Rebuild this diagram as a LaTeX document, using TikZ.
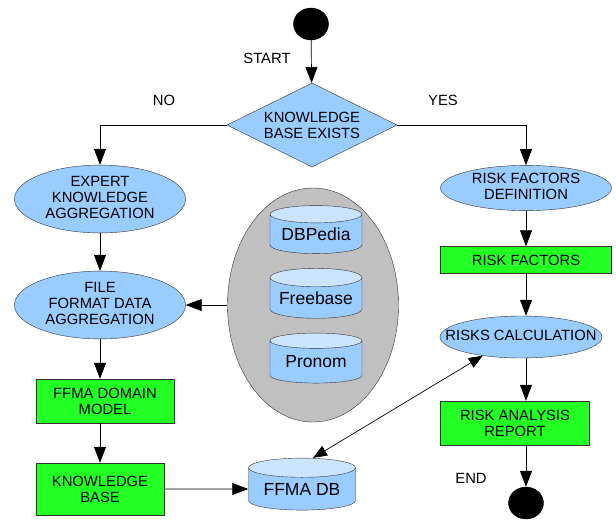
\documentclass[tikz,border=0pt]{standalone}
\usepackage{fontspec}
\setmainfont{Liberation Sans}
\usepackage{tikz}
\usetikzlibrary{positioning,arrows.meta,shapes.geometric}
\definecolor{colorproc}  {RGB}{153,204,255}
\definecolor{colorbox}   {RGB}{34 ,255,34 }
\definecolor{colorsrc}   {RGB}{192,192,192}
\definecolor{colordbtop} {RGB}{204,229,255}
\definecolor{colorline}  {RGB}{51 ,51 ,51 }
\newcommand{\fitin}[1]{\makebox[0pt]{\begin{tabular}{@{}c@{}}#1\end{tabular}}}

\begin{document}
\begin{tikzpicture}[
    x=1pt, y=-1pt,
    font={\fontsize{14.8}{16}\selectfont},
    proc/.style={ellipse,draw=colorline,fill=colorproc,inner sep=0pt,
        minimum width=171pt,minimum height=64pt},
    resbox/.style={rectangle,draw=colorline,fill=colorbox,inner sep=0pt,
        align=center},
    db/.style={cylinder,shape border rotate=90,aspect=0.25,draw=colorline,
        cylinder uses custom fill,cylinder body fill=colorproc,
        cylinder end fill=colordbtop,inner sep=0pt,
        font={\fontsize{17.5}{19}\selectfont}},
    term/.style={ellipse,fill=black,draw=black,inner sep=0pt,
        minimum width=35pt,minimum height=32pt},
    arr/.style={draw=black,line width=0.7pt,-{Triangle[length=16pt,width=12pt]}},
    arrboth/.style={draw=black,line width=0.7pt,
        {Triangle[length=14pt,width=11pt]}-{Triangle[length=14pt,width=11pt]}},
    lbl/.style={inner sep=0pt},
]
    \useasboundingbox (0,0) rectangle (616,520);

    % start and decision
    \node[term] (start) at (311,24) {};
    \node[lbl] (startlbl) at (267,58) {START};
    \node[diamond,draw=colorline,fill=colorproc,inner sep=0pt,aspect=2,
        minimum width=170pt,minimum height=84pt,align=center]
        (kbexists) at (312,125) {KNOWLEDGE\\BASE EXISTS};
    \node[lbl] (nolbl) at (164,100) {NO};
    \node[lbl] (yeslbl) at (443,100) {YES};

    % left branch
    \node[proc] (expert) at (100,199) {\fitin{EXPERT\\KNOWLEDGE\\AGGREGATION}};
    \node[proc] (ffda) at (100,305) {\fitin{FILE\\FORMAT DATA\\AGGREGATION}};
    \node[resbox,minimum width=138pt,minimum height=44pt] (domain) at (105,401)
        {FFMA DOMAIN\\MODEL};
    \node[resbox,minimum width=128pt,minimum height=52pt] (kbase) at (100,489)
        {KNOWLEDGE\\BASE};

    % external sources
    \node[ellipse,draw=colorline,fill=colorsrc,minimum width=171pt,
        minimum height=234pt] (sources) at (313,305) {};
    \node[db,minimum width=92pt,minimum height=48pt] (dbpedia) at (316,234) {DBPedia};
    \node[db,minimum width=92pt,minimum height=50pt] (freebase) at (316,298) {Freebase};
    \node[db,minimum width=92pt,minimum height=50pt] (pronom) at (316,362) {Pronom};
    \node[db,minimum width=107pt,minimum height=52pt] (ffmadb) at (302,489) {FFMA DB};

    % right branch
    \node[proc,minimum height=42pt] (riskdef) at (526,188) {\fitin{RISK FACTORS\\DEFINITION}};
    \node[resbox,minimum width=171pt,minimum height=27pt] (riskfac) at (526,260)
        {RISK FACTORS};
    \node[proc,minimum width=162pt,minimum height=42pt] (riskcalc) at (521,337)
        {\fitin{RISKS CALCULATION}};
    \node[resbox,minimum width=149pt,minimum height=44pt] (report) at (515,423)
        {RISK ANALYSIS\\REPORT};
    \node[term] (stop) at (526,503) {};
    \node[lbl] (endlbl) at (471,478) {END};

    % connectors
    \draw[arr] (start) -- (kbexists);
    \draw[arr] (kbexists.west) -| (expert.north);
    \draw[arr] (kbexists.east) -| (riskdef.north);
    \draw[arr] (expert) -- (ffda);
    \draw[arr] (sources.west) -- (ffda.east);
    \draw[arr] (ffda) -- (domain.north -| ffda.south);
    \draw[arr] (domain.south -| kbase.north) -- (kbase.north);
    \draw[arr] (kbase.east) -- (ffmadb.west);
    \draw[arr] (riskdef) -- (riskfac);
    \draw[arr] (riskfac) -- (riskcalc.north -| riskfac.south);
    \draw[arr] (riskcalc.south -| riskfac.south) -- (report.north -| riskfac.south);
    \draw[arr] (report.south -| stop.north) -- (stop);
    \draw[arrboth] ([xshift=11pt]ffmadb.north) -- (riskcalc.206);

\end{tikzpicture}
\end{document}
